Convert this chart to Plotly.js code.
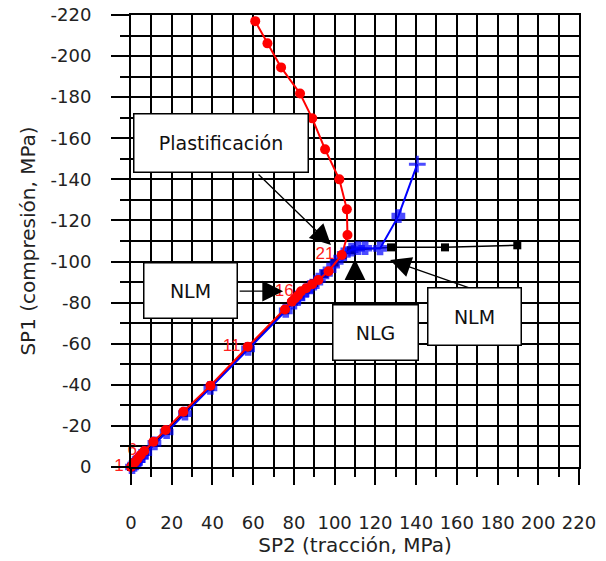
<!DOCTYPE html>
<html>
<head>
<meta charset="utf-8">
<script src="https://cdn.plot.ly/plotly-3.0.1.min.js"></script>
<style>body{margin:0;background:#fff}</style>
</head>
<body>
<div id="chart" style="width:606px;height:561px"></div>
<script>
// Red series (Plastificación) – SP2 (x), SP1 (y)
const redX = [0, 0.8, 2, 3.3, 4.8, 6.5, 11, 17, 25.7, 39, 57.3, 75.6, 79, 80.5, 82, 83.5, 86, 89, 92, 97, 103.5, 106.3, 106, 102.3, 95.3, 89, 83, 73.7, 67, 61];
const redY = [0, -1, -2.4, -4, -5.8, -7.8, -12.3, -18, -26.9, -39.6, -58.5, -76.7, -80.5, -82, -83.5, -85.5, -87, -89, -91, -95.3, -103.2, -112.9, -125.4, -140, -154.6, -169.7, -181.8, -194.5, -206.2, -217];
const redLabels = ['1','','','','','6','','','','','11','','','','','16','','','','','21','','','','','','','','',''];

// Blue series (NLG)
const blueX = [0.5, 1.5, 2.5, 3.8, 5.3, 7, 11.5, 17.5, 26.5, 39, 57.5, 76, 80, 82, 84, 86, 88, 91, 94, 97.5, 101, 104.5, 108.3, 111.5, 115, 122.3, 131.3, 140.6];
const blueY = [0, -1, -2.2, -3.6, -5.3, -7, -11.5, -17, -26, -38.5, -57.5, -76, -80, -82.5, -84, -86, -87.5, -90, -93, -96, -100, -103.5, -105.8, -106.5, -106.5, -106.4, -122.1, -147.4];

// Black series (NLM)
const blackX = [0, 1, 2.2, 3.5, 5, 6.8, 11.3, 17.3, 26, 39, 57.3, 75.8, 80, 83, 86, 90, 95, 100, 104, 108, 127.7, 154.2, 189.7];
const blackY = [0, -1, -2.3, -3.8, -5.5, -7.3, -11.8, -17.5, -26.3, -39, -58, -76.3, -80.5, -84, -86.3, -89.5, -94, -99.5, -103, -105.5, -106.9, -106.9, -107.9];

// Axis ticks
const xTickVals = [0, 20, 40, 60, 80, 100, 120, 140, 160, 180, 200, 220];
const xTickText = ['0', '20', '40', '60', '80', '100', '120', '140', '160', '180', '200', '220'];
const yTickVals = [0, -20, -40, -60, -80, -100, -120, -140, -160, -180, -200, -220];
const yTickText = ['0', '-20', '-40', '-60', '-80', '-100', '-120', '-140', '-160', '-180', '-200', '-220'];

const boxLabels = ['Plastificación', 'NLM', 'NLG', 'NLM'];

const blueSymbols = blueX.map((v, i) => i === blueX.length - 1 ? 'cross-thin' : 'cross');
const blueSizes = blueX.map((v, i) => i === blueX.length - 1 ? 12 : 9);

const traces = [
  {x: blackX, y: blackY, type: 'scatter', mode: 'lines+markers', cliponaxis: false,
   line: {color: '#000', width: 1.5}, marker: {symbol: 'square', size: 8, color: '#000'}, showlegend: false, hoverinfo: 'none'},
  {x: blueX, y: blueY, type: 'scatter', mode: 'lines+markers', cliponaxis: false,
   line: {color: '#0000ff', width: 2}, marker: {symbol: blueSymbols, size: blueSizes, color: '#0000ff', line: {color: '#0000ff', width: 3}}, showlegend: false, hoverinfo: 'none'},
  {x: redX, y: redY, type: 'scatter', mode: 'lines+markers+text', cliponaxis: false,
   text: redLabels, textposition: 'middle left', textfont: {family: 'Liberation Sans', size: 17, color: '#ff2020'},
   line: {color: '#ff0000', width: 2}, marker: {symbol: 'circle', size: 10, color: '#ff0000'}, showlegend: false, hoverinfo: 'none'}
];

const fnt = 'DejaVu Sans, sans-serif';
function box(text, x, y, w, h) {
  return {text: text, x: x, y: y, xref: 'x', yref: 'y', showarrow: false, width: w, height: h,
    bgcolor: '#fff', bordercolor: '#000', borderwidth: 1.5, borderpad: 0,
    font: {family: fnt, size: 19, color: '#111'}, align: 'center', valign: 'middle'};
}
function arrow(x, y, ax, ay) {
  return {text: '', x: x, y: y, ax: ax, ay: ay, xref: 'x', yref: 'y', axref: 'x', ayref: 'y',
    showarrow: true, arrowhead: 2, arrowsize: 3.2, arrowwidth: 1.3, arrowcolor: '#000', standoff: 0};
}

const layout = {
  width: 606, height: 561,
  margin: {l: 131, r: 27, t: 15, b: 94},
  paper_bgcolor: '#fff', plot_bgcolor: '#fff',
  font: {family: fnt, color: '#222'},
  showlegend: false,
  xaxis: {
    range: [0, 220], tickmode: 'array', tickvals: xTickVals, ticktext: xTickText,
    ticks: 'outside', ticklen: 16, tickwidth: 2, tickcolor: '#000',
    showgrid: true, gridcolor: '#000', gridwidth: 2, zeroline: false,
    showline: true, linecolor: '#000', linewidth: 2, mirror: true,
    minor: {dtick: 10, ticks: 'outside', ticklen: 8, tickwidth: 2, tickcolor: '#000', showgrid: true, gridcolor: '#000', gridwidth: 2},
    tickfont: {family: fnt, size: 18, color: '#222'}, ticklabelstandoff: 22,
    title: {text: 'SP2 (tracción, MPa)', font: {family: fnt, size: 20, color: '#222'}, standoff: 4}
  },
  yaxis: {
    range: [0, -220], tickmode: 'array', tickvals: yTickVals, ticktext: yTickText,
    ticks: 'outside', ticklen: 18, tickwidth: 2, tickcolor: '#000',
    showgrid: true, gridcolor: '#000', gridwidth: 2, zeroline: false,
    showline: true, linecolor: '#000', linewidth: 2, mirror: true,
    minor: {dtick: 10, ticks: 'outside', ticklen: 9, tickwidth: 2, tickcolor: '#000', showgrid: true, gridcolor: '#000', gridwidth: 2},
    tickfont: {family: fnt, size: 18, color: '#222'}, ticklabelstandoff: 16,
    title: {text: 'SP1 (compresión, MPa)', font: {family: fnt, size: 20, color: '#222'}, standoff: 10}
  },
  annotations: [
    arrow(98.2, -108.0, 61.9, -143.1),
    arrow(74.7, -85.6, 52.6, -85.6),
    arrow(110.0, -101.2, 110.0, -79.3),
    arrow(127.2, -100.7, 166.5, -87.1),
    box(boxLabels[0], 44.2, -157.7, 173, 57),
    box(boxLabels[1], 29.2, -85.9, 92, 54),
    box(boxLabels[2], 120.0, -65.4, 84, 54),
    box(boxLabels[3], 168.7, -73.2, 92, 56)
  ]
};

Plotly.newPlot('chart', traces, layout, {displayModeBar: false, staticPlot: true});
</script>
</body>
</html>
